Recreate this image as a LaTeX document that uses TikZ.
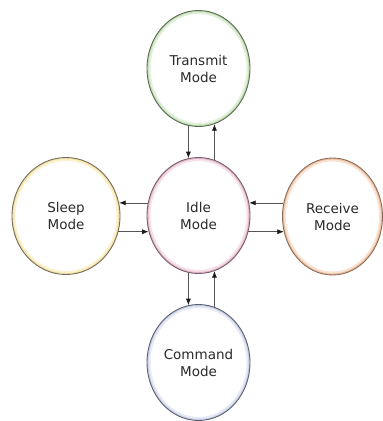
\documentclass[tikz,border=0pt]{standalone}
\usepackage{fontspec}
\setmainfont{DejaVu Sans}
\usetikzlibrary{arrows.meta,shapes.geometric}
\definecolor{txt}{HTML}{2A2A2A}
\definecolor{arrowc}{HTML}{555555}
\definecolor{headc}{HTML}{1A1A1A}
\definecolor{tB}{HTML}{5A6A52}\definecolor{tG}{HTML}{E2F0DA}\definecolor{tI}{HTML}{BFDDB2}
\definecolor{sB}{HTML}{766C58}\definecolor{sG}{HTML}{FCF2D0}\definecolor{sI}{HTML}{F3E2A6}
\definecolor{iB}{HTML}{765E6A}\definecolor{iG}{HTML}{F6E0E9}\definecolor{iI}{HTML}{E3B8CA}
\definecolor{rB}{HTML}{8E6C5A}\definecolor{rG}{HTML}{F8E3D5}\definecolor{rI}{HTML}{EBBF9F}
\definecolor{cB}{HTML}{5C6070}\definecolor{cG}{HTML}{E6EAF5}\definecolor{cI}{HTML}{C8CFE6}
\tikzset{
  state/.style n args={5}{ellipse, inner sep=0pt, align=center, text=txt,
    font=\fontsize{13.5pt}{17pt}\selectfont,
    minimum width=#1, minimum height=#2, draw=#3, line width=0.9pt, fill=white,
    path picture={
      \draw[#4, line width=7pt] (path picture bounding box.center) ellipse [x radius=#1/2, y radius=#2/2];
      \draw[#5, line width=3pt] (path picture bounding box.center) ellipse [x radius=#1/2, y radius=#2/2];
    }},
  arr/.style={draw=arrowc, line width=0.7pt, -{Latex[length=6.5pt,width=5pt,color=headc]}}
}
\begin{document}
\begin{tikzpicture}[x=1pt, y=-1pt]
\useasboundingbox (0,0) rectangle (383,421);
\node[state={103pt}{116pt}{tB}{tG}{tI}] (T) at (198.5,68.5) {Transmit\\Mode};
\node[state={103pt}{116pt}{iB}{iG}{iI}] (I) at (198.5,215.5) {Idle\\Mode};
\node[state={103pt}{116pt}{cB}{cG}{cI}] (C) at (198.5,362.5) {Command\\Mode};
\node[state={108pt}{117pt}{sB}{sG}{sI}] (S) at (66,216) {Sleep\\Mode};
\node[state={100pt}{117pt}{rB}{rG}{rI}] (R) at (332.5,216.5) {Receive\\Mode};
% vertical connectors
\draw[arr] (T.-100) -- (I.100);
\draw[arr] (I.74) -- (T.-74);
\draw[arr] (I.-100) -- (C.100);
\draw[arr] (C.74) -- (I.-74);
% horizontal connectors
\draw[arr, shorten >=-1.3pt] (I.166) -- (I.166 -| S.east);
\draw[arr, shorten <=-2pt] (I.-162 -| S.east) -- (I.-162);
\draw[arr, shorten <=-1.4pt] (I.14 -| R.west) -- (I.14);
\draw[arr, shorten >=-1.8pt] (I.-18) -- (I.-18 -| R.west);
\end{tikzpicture}
\end{document}
